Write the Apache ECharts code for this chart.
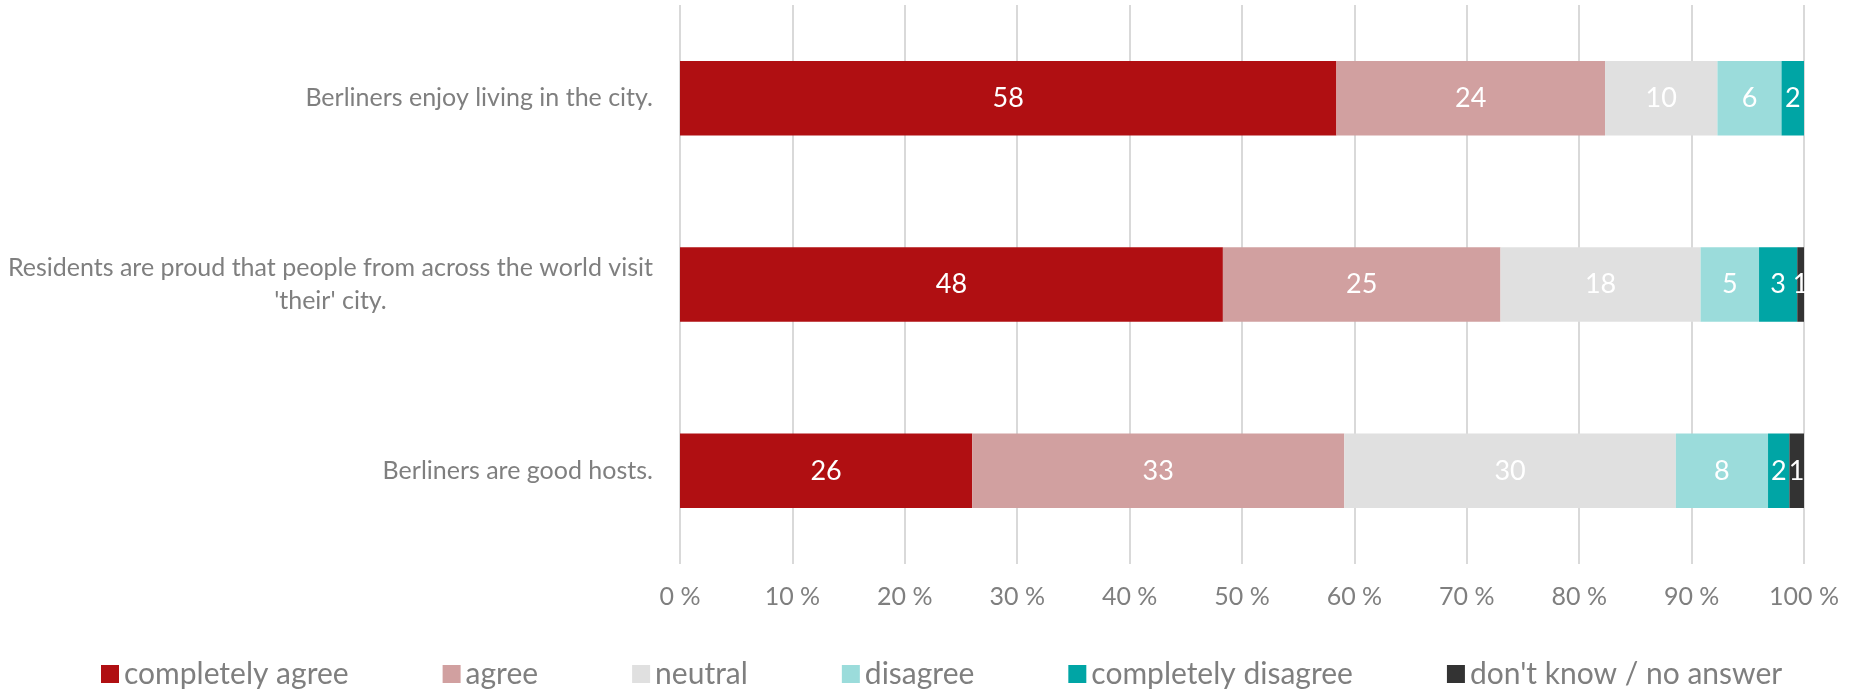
<!DOCTYPE html>
<html>
<head>
<meta charset="utf-8">
<title>Berliners survey</title>
<script src="https://cdn.jsdelivr.net/npm/echarts@6/dist/echarts.min.js"></script>
<style>
  html, body { margin: 0; padding: 0; background: #fff; }
  #chart { width: 1853px; height: 691px; }
</style>
</head>
<body>
<div id="chart"></div>
<script>
// statements, top to bottom
const categories = [
  'Berliners enjoy living in the city.',
  "Residents are proud that people from across the world visit\n'their' city.",
  'Berliners are good hosts.'
];

const answers = ['completely agree', 'agree', 'neutral', 'disagree', 'completely disagree', "don't know / no answer"];
const colors = ['#b00f12', '#d1a0a0', '#e0e0e0', '#9bdcdb', '#00a5a5', '#333333'];

// shares in % per statement
const completelyAgree = [58.4, 48.3, 26.0];
const agree = [23.9, 24.7, 33.1];
const neutral = [10.0, 17.8, 29.5];
const disagree = [5.7, 5.2, 8.2];
const completelyDisagree = [2.0, 3.4, 1.9];
const noAnswer = [0, 0.6, 1.3];

const seriesData = [completelyAgree, agree, neutral, disagree, completelyDisagree, noAnswer];

const FONT = 'Lato';
const GREY = '#7f7f7f';

const myChart = echarts.init(document.getElementById('chart'));

myChart.setOption({
  animation: false,
  color: colors,
  grid: { left: 680, right: 49, top: 5, bottom: 127, containLabel: false },
  legend: {
    left: 96,
    top: 652,
    icon: 'rect',
    itemWidth: 18,
    itemHeight: 18,
    itemGap: 94,
    textStyle: { fontFamily: FONT, fontSize: 30, lineHeight: 34, color: GREY },
    data: answers
  },
  xAxis: {
    type: 'value',
    min: 0,
    max: 100,
    interval: 10,
    axisLine: { show: false },
    axisTick: { show: false },
    splitLine: { lineStyle: { color: '#d9d9d9', width: 2 } },
    axisLabel: {
      margin: 20,
      fontFamily: FONT,
      fontSize: 25,
      color: GREY,
      formatter: '{value} %'
    }
  },
  yAxis: {
    type: 'category',
    inverse: true,
    data: categories,
    axisLine: { show: false },
    axisTick: { show: false },
    axisLabel: {
      margin: 27,
      fontFamily: FONT,
      fontSize: 25,
      lineHeight: 33,
      color: GREY,
      formatter: function (v) {
        if (v.indexOf('\n') < 0) return v;
        return v.split('\n').map(function (s) { return '{c|' + s + '}'; }).join('\n');
      },
      rich: {
        c: { align: 'center', fontFamily: FONT, fontSize: 25, lineHeight: 33, color: GREY }
      }
    }
  },
  series: answers.map(function (name, i) {
    return {
      name: name,
      type: 'bar',
      stack: 'total',
      barWidth: '40%',
      data: seriesData[i],
      label: {
        show: true,
        position: 'inside',
        color: '#fff',
        fontFamily: FONT,
        fontSize: 27,
        formatter: function (p) {
          return p.value > 0 ? Math.round(p.value) : '';
        }
      }
    };
  })
});
</script>
</body>
</html>
